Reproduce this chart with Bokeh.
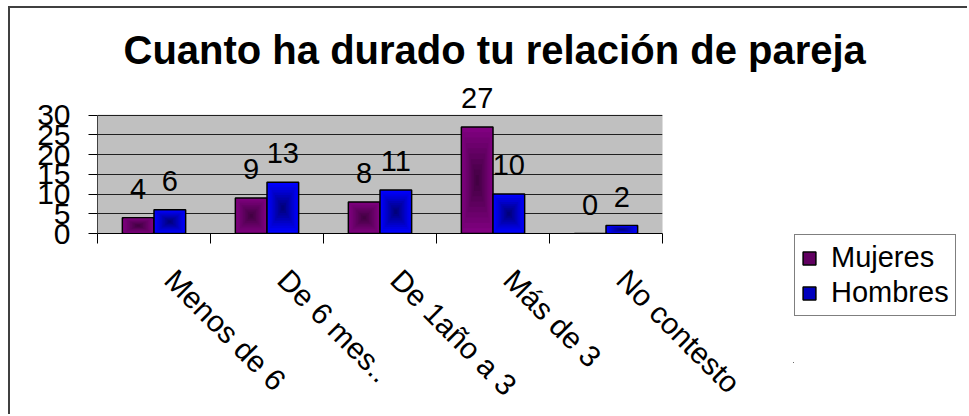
import numpy as np
from bokeh.plotting import figure
from bokeh.models import (Range1d, FixedTicker, ColumnDataSource, BoxAnnotation,
                          LabelSet, Legend, LegendItem)
from bokeh.core.properties import value
from bokeh.embed import file_html
from bokeh.resources import INLINE

# ---- data ----
categories = ["Menos de 6", "De 6 mes..", "De 1año a 3", "Más de 3", "No contesto"]
mujeres = [4, 9, 8, 27, 0]
hombres = [6, 13, 11, 10, 2]
series_names = ["Mujeres", "Hombres"]
y_ticks = [0, 5, 10, 15, 20, 25, 30]
title_text = "Cuanto ha durado tu relación de pareja"

FONT = "Liberation Sans"
W, H = 959, 408
Y_MAX = y_ticks[-1]
Y_HEAD = 7.5   # room above the plot area for the value labels

p = figure(width=W, height=H, output_backend="svg", toolbar_location=None,
           x_range=Range1d(0, len(categories)), y_range=Range1d(0, Y_MAX + Y_HEAD),
           min_border_left=87, min_border_right=307, min_border_top=77,
           min_border_bottom=181)
p.styles = {"margin-left": "8px", "margin-top": "6px",
            "border-left": "2px solid #404040", "border-top": "2px solid #404040"}

p.title.text = title_text
p.title.text_font = FONT
p.title.text_font_size = "40px"
p.title.text_font_style = "bold"
p.title.text_color = "black"
p.title.align = "left"
p.title.offset = 26
p.title.standoff = 28

p.background_fill_color = "white"
p.border_fill_color = "white"
p.outline_line_color = None

# grey plot area (0..30)
p.add_layout(BoxAnnotation(top=Y_MAX, fill_color="#C0C0C0", fill_alpha=1,
                           line_color="#808080", line_width=1, level="image"))

# x axis: labels near centres, tick marks at category boundaries
centers = [i + 0.5 for i in range(len(categories))]
label_pos = [c + 0.14 for c in centers]
xa = p.xaxis[0]
xa.ticker = FixedTicker(ticks=label_pos, minor_ticks=list(range(len(categories) + 1)))
xa.major_label_overrides = {c: lab for c, lab in zip(label_pos, categories)}
xa.major_tick_out = 0
xa.major_tick_in = 0
xa.minor_tick_out = 10
xa.minor_tick_in = 0
xa.minor_tick_line_color = "black"
xa.axis_line_color = "black"
xa.major_label_orientation = -np.pi / 4
xa.major_label_text_font = FONT
xa.major_label_text_font_size = "30px"
xa.major_label_text_color = "black"
xa.major_label_standoff = 31

ya = p.yaxis[0]
ya.ticker = FixedTicker(ticks=y_ticks)
ya.bounds = (0, Y_MAX)
ya.major_tick_out = 9
ya.major_tick_in = 0
ya.minor_tick_line_color = None
ya.axis_line_color = "#404040"
ya.major_label_text_font = FONT
ya.major_label_text_font_size = "30px"
ya.major_label_text_color = "black"
ya.major_label_standoff = 18

p.xgrid.visible = False
p.ygrid.ticker = FixedTicker(ticks=y_ticks)
p.ygrid.grid_line_color = "#202020"
p.ygrid.grid_line_width = 1

bw = 0.28
off = 0.14
x_m = [c - off for c in centers]
x_h = [c + off for c in centers]

def shade(base, dark, t):
    return "#%02x%02x%02x" % tuple(int(round(b + (d - b) * t)) for b, d in zip(base, dark))

styles = [((128, 0, 128), (60, 0, 60)), ((0, 0, 255), (0, 0, 110))]
sources = []
for xs, vals, (base, dark) in zip([x_m, x_h], [mujeres, hombres], styles):
    src = ColumnDataSource(dict(x=xs, top=vals, y=[v / 2 for v in vals]))
    p.vbar(x="x", top="top", bottom=0, width=bw, source=src,
           fill_color=shade(base, dark, 0), line_color="black", line_width=1.5)
    sources.append(src)
    n = 10
    for k in range(1, n):
        s = 1 - k / n
        p.rect(x=xs, y=[v / 2 for v in vals], width=bw * s,
               height=[v * s for v in vals],
               fill_color=shade(base, dark, k / n), line_color=None)

for src in sources:
    p.add_layout(LabelSet(x="x", y="top", text="top", source=src, text_align="center",
                          text_baseline="alphabetic", y_offset=19,
                          text_font=value(FONT), text_font_size=value("29px"),
                          text_color="black"))

# ---- legend (separate small svg figure placed to the right of the plot) ----
# its ranges lie outside the data, so only the legend box is visible there
p2 = figure(width=176, height=130, output_backend="svg", toolbar_location=None,
            x_axis_type=None, y_axis_type=None, min_border=0,
            x_range=Range1d(100, 101), y_range=Range1d(100, 101))
p2.styles = {"position": "absolute", "left": "793px", "top": "233px"}
p2.outline_line_color = None
p2.background_fill_color = "white"
p2.border_fill_color = "white"
p2.xgrid.visible = False
p2.ygrid.visible = False
items = []
for name, src, (base, dark) in zip(series_names, sources, styles):
    r = p2.vbar(x="x", top="top", bottom=0, width=bw, source=src,
                fill_color=shade(base, dark, 0.45), line_color="black", line_width=1.5)
    items.append(LegendItem(label=name, renderers=[r]))
legend = Legend(items=items, location="top_left")
legend.label_text_font = FONT
legend.label_text_font_size = "29px"
legend.label_text_color = "black"
legend.glyph_width = 16
legend.glyph_height = 16
legend.spacing = 2
legend.padding = 6
legend.margin = 1
legend.label_standoff = 14
legend.border_line_color = "black"
legend.border_line_width = 1.5
legend.background_fill_color = "white"
legend.background_fill_alpha = 1
p2.add_layout(legend, "center")

open("out.html", "w").write(file_html([p, p2], INLINE))
